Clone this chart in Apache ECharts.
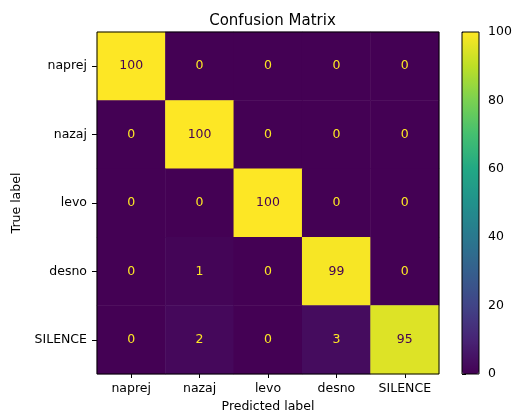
<!DOCTYPE html>
<html>
<head>
<meta charset="utf-8">
<script src="https://cdn.jsdelivr.net/npm/echarts@6/dist/echarts.min.js"></script>
<style>html,body{margin:0;padding:0;background:#fff}#c{width:520px;height:412px}</style>
</head>
<body>
<div id="c"></div>
<script>
var predictedLabels = ['naprej', 'nazaj', 'levo', 'desno', 'SILENCE'];
var trueLabels = ['naprej', 'nazaj', 'levo', 'desno', 'SILENCE'];
// rows = true label, columns = predicted label
var matrix = [
  [100, 0, 0, 0, 0],
  [0, 100, 0, 0, 0],
  [0, 0, 100, 0, 0],
  [0, 1, 0, 99, 0],
  [0, 2, 0, 3, 95]
];
var colorbarTicks = [0, 20, 40, 60, 80, 100];
var viridis = ['#440154','#482475','#414487','#355f8d','#2a788e','#21918c','#22a884','#44bf70','#7ad151','#bddf26','#fde725'];

var FONT = 'DejaVu Sans';
var FS = 12.5;
var data = [];
for (var r = 0; r < matrix.length; r++) {
  for (var c = 0; c < matrix[r].length; c++) {
    var v = matrix[r][c];
    data.push({ value: [c, r, v], label: { color: v > 50 ? '#440154' : '#fde725' } });
  }
}

var chart = echarts.init(document.getElementById('c'));
chart.setOption({
  animation: false,
  title: {
    text: 'Confusion Matrix', left: 267.5, top: 9, textAlign: 'center',
    textStyle: { fontFamily: FONT, fontSize: 15, fontWeight: 'normal', color: '#000' }
  },
  grid: [
    { left: 97, top: 32, width: 342, height: 342, outerBoundsMode: 'none', containLabel: false, show: true, borderColor: '#000', borderWidth: 1, backgroundColor: 'transparent', z: 5 },
    { left: 462, top: 32, width: 17, height: 342, outerBoundsMode: 'none', containLabel: false, show: true, borderColor: '#000', borderWidth: 1, backgroundColor: 'transparent', z: 5 }
  ],
  xAxis: [
    {
      type: 'category', data: predictedLabels, gridIndex: 0, position: 'bottom',
      name: 'Predicted label', nameLocation: 'middle', nameGap: 24.5,
      nameTextStyle: { fontFamily: FONT, fontSize: FS, color: '#000' },
      axisLine: { show: false },
      axisTick: { show: true, alignWithLabel: true, length: 4, lineStyle: { color: '#000' } },
      axisLabel: { fontFamily: FONT, fontSize: FS, color: '#000', margin: 8 },
      splitLine: { show: false }
    },
    { type: 'value', gridIndex: 1, show: false, min: 0, max: 1 }
  ],
  yAxis: [
    {
      type: 'category', data: trueLabels, gridIndex: 0, inverse: true,
      name: 'True label', nameLocation: 'middle', nameGap: 66, nameRotate: 90,
      nameTextStyle: { fontFamily: FONT, fontSize: FS, color: '#000' },
      axisLine: { show: false },
      axisTick: { show: true, alignWithLabel: true, length: 5, lineStyle: { color: '#000' } },
      axisLabel: { fontFamily: FONT, fontSize: FS, color: '#000', margin: 10 },
      splitLine: { show: false }
    },
    {
      type: 'value', gridIndex: 1, min: colorbarTicks[0], max: colorbarTicks[colorbarTicks.length - 1], interval: 20,
      position: 'right',
      axisLine: { show: false },
      axisTick: { show: true, length: 4, lineStyle: { color: '#000' } },
      axisLabel: { fontFamily: FONT, fontSize: FS, color: '#000', margin: 9 },
      splitLine: { show: false }
    }
  ],
  visualMap: {
    type: 'continuous', min: 0, max: 100, seriesIndex: 0,
    left: 462, top: 32, itemWidth: 17, itemHeight: 342, padding: 0,
    text: null, calculable: false, showLabel: false, realtime: false, hoverLink: false,
    inRange: { color: viridis }
  },
  series: [
    {
      type: 'heatmap', xAxisIndex: 0, yAxisIndex: 0, data: data,
      label: { show: true, fontFamily: FONT, fontSize: FS },
      itemStyle: { borderWidth: 0 },
      emphasis: { disabled: true }
    }
  ]
});
</script>
</body>
</html>
